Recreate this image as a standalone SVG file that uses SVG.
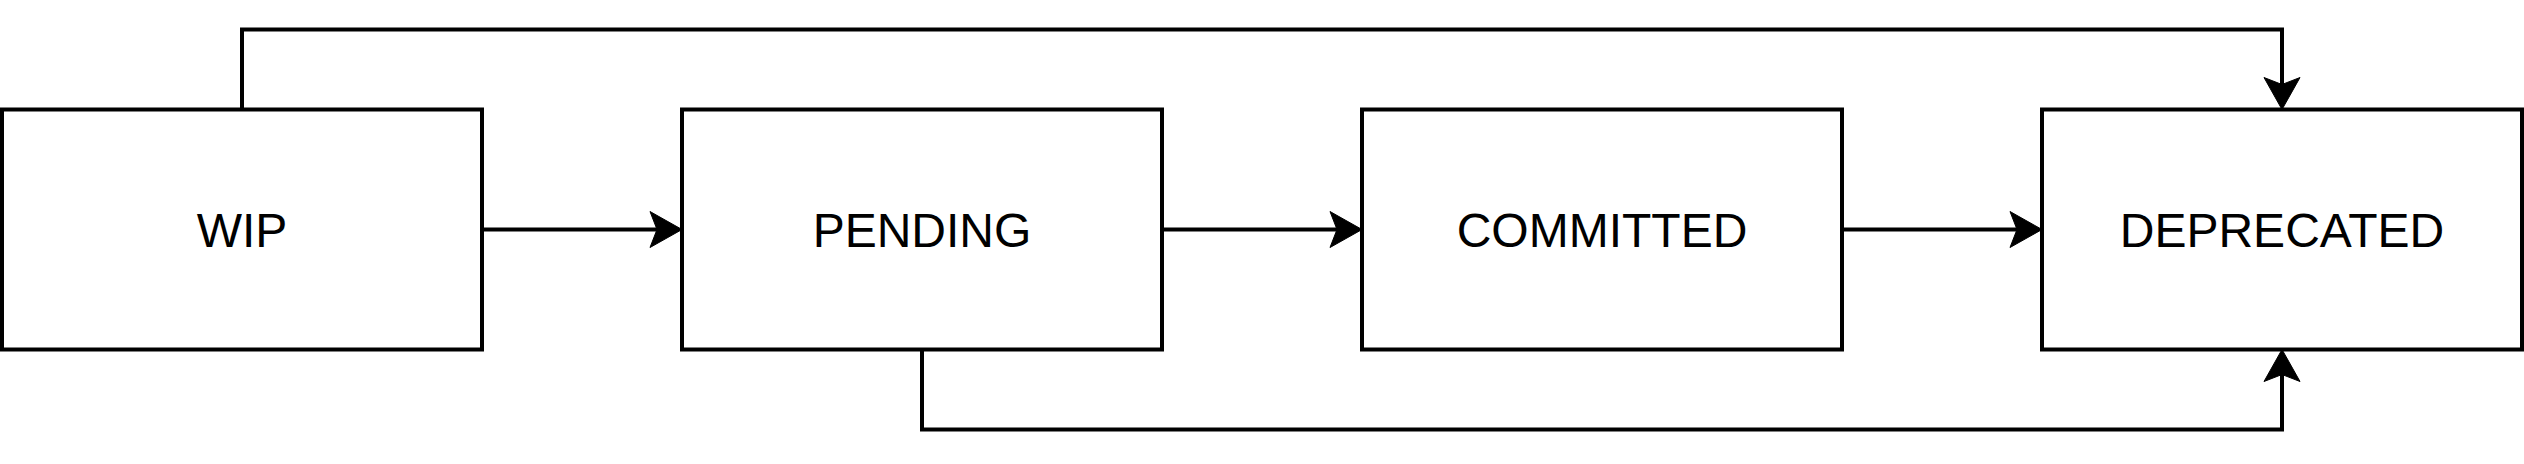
<svg xmlns="http://www.w3.org/2000/svg" width="2524" height="464" viewBox="0 0 2524 464">
<defs>
<style>
.node rect{fill:#fff;stroke:#000;stroke-width:4}
.node text{font-family:"Liberation Sans",Arial,Helvetica,sans-serif;font-size:48px;fill:#000;text-anchor:middle}
.edge{fill:none;stroke:#000;stroke-width:4}
.head{fill:#000;stroke:#000;stroke-width:1;stroke-linejoin:round}
</style>
</defs>
<rect width="2524" height="464" fill="#fff"/>
<g id="connectors">
<path class="edge" d="M482,229.5 L660,229.5"/>
<path class="head" d="M650,211.5 L682,229.5 L650,247.5 L657,229.5 Z"/>
<path class="edge" d="M1162,229.5 L1340,229.5"/>
<path class="head" d="M1330,211.5 L1362,229.5 L1330,247.5 L1337,229.5 Z"/>
<path class="edge" d="M1842,229.5 L2020,229.5"/>
<path class="head" d="M2010,211.5 L2042,229.5 L2010,247.5 L2017,229.5 Z"/>
<path class="edge" d="M242,109.5 L242,29.5 L2282,29.5 L2282,88"/>
<path class="head" d="M2264,77.5 L2282,109.5 L2300,77.5 L2282,84.5 Z"/>
<path class="edge" d="M922,349.5 L922,429.5 L2282,429.5 L2282,371"/>
<path class="head" d="M2264,381.5 L2282,349.5 L2300,381.5 L2282,374.5 Z"/>
</g>
<g id="node-wip" class="node">
<rect x="2" y="109.5" width="480" height="240"/>
<text x="242" y="247">WIP</text>
</g>
<g id="node-pending" class="node">
<rect x="682" y="109.5" width="480" height="240"/>
<text x="922" y="247">PENDING</text>
</g>
<g id="node-committed" class="node">
<rect x="1362" y="109.5" width="480" height="240"/>
<text x="1602" y="247">COMMITTED</text>
</g>
<g id="node-deprecated" class="node">
<rect x="2042" y="109.5" width="480" height="240"/>
<text x="2282" y="247">DEPRECATED</text>
</g>
</svg>
